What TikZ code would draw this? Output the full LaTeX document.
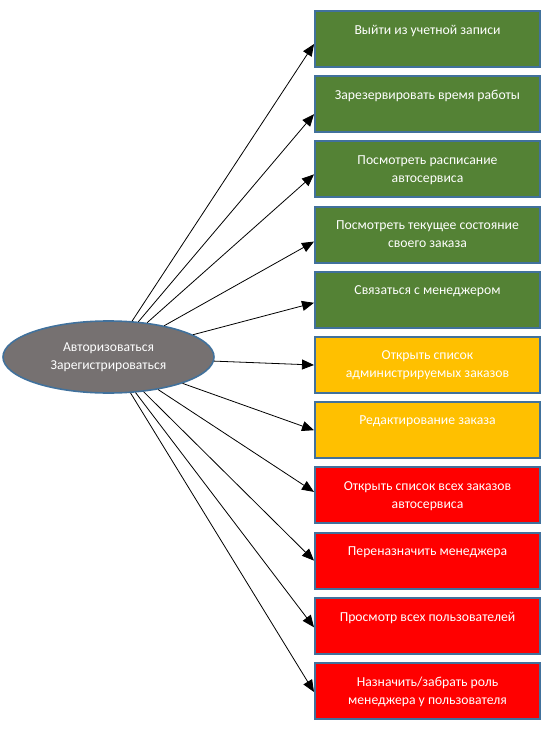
\documentclass[tikz,border=0pt]{standalone}
\usepackage{fontspec}
\setmainfont{Carlito}
\usetikzlibrary{arrows.meta,shapes.geometric}

\definecolor{actgreen}{HTML}{548235}
\definecolor{actorange}{HTML}{FFC000}
\definecolor{actred}{HTML}{FF0000}
\definecolor{rimblue}{HTML}{41719C}
\definecolor{rootgray}{HTML}{767171}

\newcommand{\boxlines}[1]{\parbox[t][28pt][t]{215pt}{\centering #1}}

\tikzset{
    actbox/.style={draw=rimblue, line width=2pt, minimum width=225pt, minimum height=56pt,
        inner sep=0pt, text=white, font=\fontsize{13.7}{18}\selectfont},
    usergreen/.style={actbox, fill=actgreen},
    mgrorange/.style={actbox, fill=actorange},
    admred/.style={actbox, fill=actred},
    rootnode/.style={ellipse, draw=rimblue, line width=1.6pt, fill=rootgray, text=white,
        minimum width=211pt, minimum height=72pt, inner sep=0pt, align=center,
        font=\fontsize{13.6}{18}\selectfont},
    arr/.style={-{Triangle[length=12pt,width=10pt]}, line width=0.8pt},
}

\begin{document}
\begin{tikzpicture}[x=1pt, y=-1pt]
    \useasboundingbox (0,0) rectangle (546,730);
    % central use case
    \node[rootnode] (root) at (108.5,357) {Авторизоваться\\Зарегистрироваться};
    % actions and connectors
    \foreach \i/\kind/\txt/\dy in {
        1/usergreen/{Выйти из учетной записи}/-5,
        2/usergreen/{Зарезервировать время работы}/-10,
        3/usergreen/{Посмотреть расписание\\автосервиса}/-5,
        4/usergreen/{Посмотреть текущее состояние\\своего заказа}/-7,
        5/usergreen/{Связаться с менеджером}/-3,
        6/mgrorange/{Открыть список\\администрируемых заказов}/0,
        7/mgrorange/{Редактирование заказа}/0,
        8/admred/{Открыть список всех заказов\\автосервиса}/3.5,
        9/admred/{Переназначить менеджера}/0,
        10/admred/{Просмотр всех пользователей}/-1.5,
        11/admred/{Назначить/забрать роль\\менеджера у пользователя}/-1}
    {
        \node[\kind] (b\i) at (427.5, 39+65.2*\i-65.2) {\boxlines{\txt}};
        \draw[arr] (root) -- ([yshift=\dy pt]b\i.west);
    }
\end{tikzpicture}
\end{document}
